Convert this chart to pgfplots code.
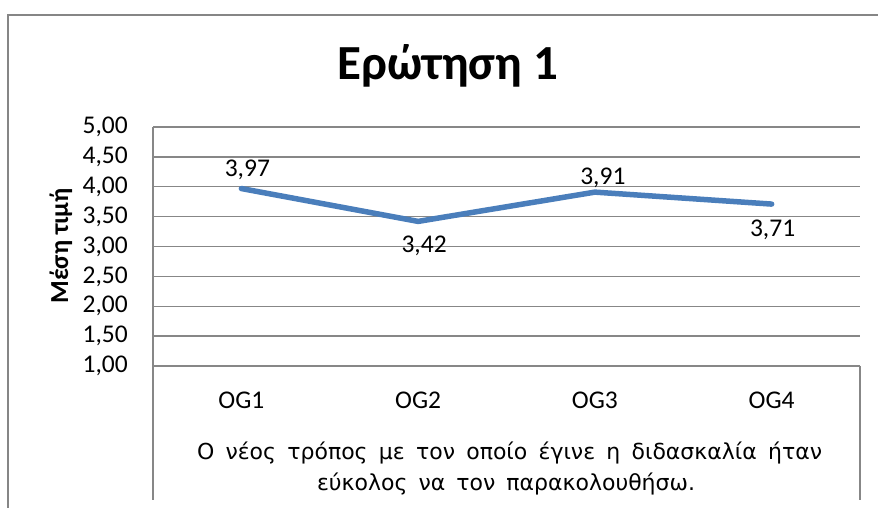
\documentclass[border=0pt]{standalone}
\usepackage{pgfplots}
\pgfplotsset{compat=1.18}
\usepackage{pgfplotstable}
\usepackage{fontspec}
\setmainfont{Carlito}
\newfontfamily\xlabfont{DejaVu Sans}
\definecolor{serieblue}{HTML}{4A7EBB}
\definecolor{gridgray}{HTML}{878787}
\definecolor{framegray}{HTML}{868686}

\pgfplotstableread{
x   y    lab   dx  dy
0.5 3.97 {3,97} 6  11.7
1.5 3.42 {3,42} 6  -31.4
2.5 3.91 {3,91} 8  7.3
3.5 3.71 {3,71} 1  -32.7
}\datatable

\begin{document}
\begin{tikzpicture}[x=1pt,y=1pt]
\useasboundingbox (0,0) rectangle (878,508);
% outer chart frame (left and top edges visible)
\draw[framegray, line width=1.5pt] (8,0) -- (8,493) -- (878,493);
% title
\node[anchor=base, inner sep=0pt, font=\fontsize{49}{58}\selectfont\bfseries] at (448,428) {Ερώτηση 1};
% y label
\node[anchor=base, rotate=90, inner sep=0pt, font=\fontsize{26}{30}\selectfont\bfseries] at (68,262) {Μέση τιμή};

\begin{axis}[
  at={(153pt,142pt)}, anchor=south west,
  width=707pt, height=239pt, scale only axis,
  xmin=0, xmax=4, ymin=1, ymax=5,
  axis line style={draw=none},
  tick style={draw=none},
  ytick={1,1.5,2,2.5,3,3.5,4,4.5,5},
  yticklabels={{1,00},{1,50},{2,00},{2,50},{3,00},{3,50},{4,00},{4,50},{5,00}},
  xtick={0.5,1.5,2.5,3.5},
  xticklabels={OG1,OG2,OG3,OG4},
  ymajorgrids,
  major grid style={gridgray, line width=1.4pt},
  ticklabel style={font=\fontsize{25.5}{30}\selectfont},
  yticklabel style={anchor=east, inner sep=0pt, xshift=-25pt},
  xticklabel style={anchor=base, inner sep=0pt, yshift=-43pt},
  clip=false,
]
\addplot[serieblue, line width=5.5pt, line join=round, line cap=round,
  nodes near coords, point meta=explicit symbolic,
  visualization depends on={\thisrow{dx}\as\dx},
  visualization depends on={\thisrow{dy}\as\dy},
  nodes near coords style={anchor=base, inner sep=0pt, text=black,
    font=\fontsize{25.5}{30}\selectfont, xshift=\dx pt, yshift=\dy pt},
] table[x=x, y=y, meta=lab] {\datatable};
\end{axis}
% axis frame lines of the category area
\draw[gridgray, line width=1.4pt] (153,381) -- (153,8);
\draw[gridgray, line width=1.4pt] (860,142) -- (860,8);
% category group label
\node[anchor=base, inner sep=0pt, font=\xlabfont\fontsize{22}{26}\selectfont] at (509.5,48)
  {\makebox[625pt][s]{Ο νέος τρόπος με τον οποίο έγινε η διδασκαλία ήταν}};
\node[anchor=base, inner sep=0pt, font=\xlabfont\fontsize{22}{26}\selectfont] at (506,17)
  {\makebox[378pt][s]{εύκολος να τον παρακολουθήσω.}};
\end{tikzpicture}
\end{document}
